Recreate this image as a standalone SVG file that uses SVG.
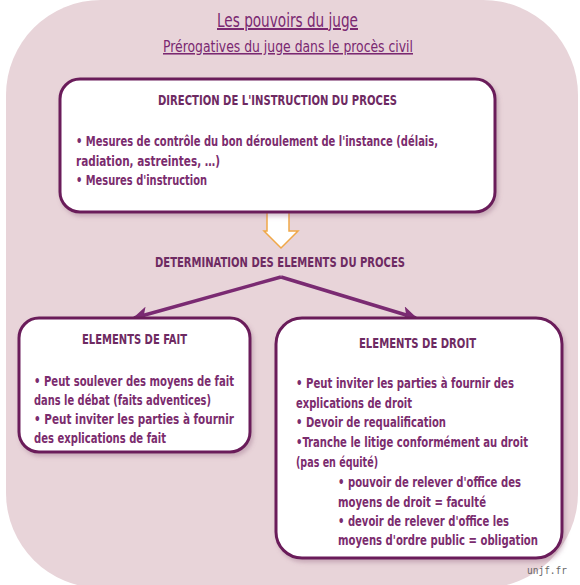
<svg xmlns="http://www.w3.org/2000/svg" width="580" height="585" viewBox="0 0 580 585">
<defs>
<filter id="sh" x="-10%" y="-10%" width="125%" height="130%">
<feDropShadow dx="2" dy="3" stdDeviation="2" flood-color="#8a5a78" flood-opacity="0.35"/>
</filter>
<marker id="ah" viewBox="0 0 10 10" refX="9" refY="5" markerWidth="4.5" markerHeight="4.5" orient="auto" markerUnits="strokeWidth">
<path d="M0,0 L10,5 L0,10 L2.5,5 Z" fill="#7A2A72"/>
</marker>
<style>
.t{font-family:"DejaVu Sans Condensed","DejaVu Sans",sans-serif;font-stretch:condensed;font-weight:bold;font-size:13.5px;fill:#7B2C6E}
.h{font-family:"DejaVu Sans Condensed","DejaVu Sans",sans-serif;font-stretch:condensed;font-weight:bold;font-size:13.5px;fill:#6E2A62}
.ttl{font-family:"DejaVu Sans Condensed","DejaVu Sans",sans-serif;font-stretch:condensed;fill:#7A2871;text-decoration:underline}
.box{fill:#ffffff;stroke:#6A1B5A;stroke-width:3;filter:url(#sh)}
.con{fill:none;stroke:#7A2A72;stroke-width:3.5;marker-end:url(#ah)}
</style>
</defs>
<g id="background">
<rect x="6" y="0" width="572" height="588" rx="95" ry="95" fill="#E8D4D9"/>
</g>
<g id="title">
<text class="ttl" x="287.5" y="27" font-size="20" text-anchor="middle" textLength="141" lengthAdjust="spacingAndGlyphs">Les pouvoirs du juge</text>
<text class="ttl" x="288" y="52" font-size="15.5" text-anchor="middle" textLength="250" lengthAdjust="spacingAndGlyphs">Prérogatives du juge dans le procès civil</text>
</g>
<g id="connectors">
<polygon points="267,212 289,212 289,231 298,231 281,248 264,231 267,231" fill="#ffffff" stroke="#F0A848" stroke-width="1.5" stroke-linejoin="miter"/>
<path class="con" d="M281,277 L134,318"/>
<path class="con" d="M281,277 L416,318"/>
</g>
<g id="node-direction">
<rect class="box" x="60" y="79" width="435" height="133" rx="20" ry="20"/>
<text class="h" x="277.5" y="105" text-anchor="middle" textLength="239" lengthAdjust="spacingAndGlyphs">DIRECTION DE L'INSTRUCTION DU PROCES</text>
<text class="t" x="76" y="146" textLength="362" lengthAdjust="spacingAndGlyphs">• Mesures de contrôle du bon déroulement de l'instance (délais,</text>
<text class="t" x="76" y="166" textLength="144" lengthAdjust="spacingAndGlyphs">radiation, astreintes, …)</text>
<text class="t" x="76" y="185" textLength="131" lengthAdjust="spacingAndGlyphs">• Mesures d'instruction</text>
</g>
<g id="node-determination">
<text class="h" x="280" y="267" text-anchor="middle" textLength="250" lengthAdjust="spacingAndGlyphs">DETERMINATION DES ELEMENTS DU PROCES</text>
</g>
<g id="node-fait">
<rect class="box" x="19" y="318" width="231" height="134" rx="20" ry="20"/>
<text class="h" x="134.5" y="344" text-anchor="middle" textLength="105" lengthAdjust="spacingAndGlyphs">ELEMENTS DE FAIT</text>
<text class="t" x="34" y="386" textLength="200" lengthAdjust="spacingAndGlyphs">• Peut soulever des moyens de fait</text>
<text class="t" x="34" y="405" textLength="177" lengthAdjust="spacingAndGlyphs">dans le débat (faits adventices)</text>
<text class="t" x="34" y="424" textLength="200" lengthAdjust="spacingAndGlyphs">• Peut inviter les parties à fournir</text>
<text class="t" x="34" y="443" textLength="132" lengthAdjust="spacingAndGlyphs">des explications de fait</text>
</g>
<g id="node-droit">
<rect class="box" x="276" y="318" width="286" height="240" rx="26" ry="26"/>
<text class="h" x="417.5" y="348" text-anchor="middle" textLength="117" lengthAdjust="spacingAndGlyphs">ELEMENTS DE DROIT</text>
<text class="t" x="296" y="388" textLength="218" lengthAdjust="spacingAndGlyphs">• Peut inviter les parties à fournir des</text>
<text class="t" x="296" y="408" textLength="116" lengthAdjust="spacingAndGlyphs">explications de droit</text>
<text class="t" x="296" y="427" textLength="150" lengthAdjust="spacingAndGlyphs">• Devoir de requalification</text>
<text class="t" x="296" y="447" textLength="232" lengthAdjust="spacingAndGlyphs">•Tranche le litige conformément au droit</text>
<text class="t" x="296" y="467" textLength="82" lengthAdjust="spacingAndGlyphs">(pas en équité)</text>
<text class="t" x="338" y="487" textLength="183" lengthAdjust="spacingAndGlyphs">• pouvoir de relever d'office des</text>
<text class="t" x="338" y="507" textLength="148" lengthAdjust="spacingAndGlyphs">moyens de droit = faculté</text>
<text class="t" x="338" y="526" textLength="171" lengthAdjust="spacingAndGlyphs">• devoir de relever d'office les</text>
<text class="t" x="338" y="545" textLength="200" lengthAdjust="spacingAndGlyphs">moyens d'ordre public = obligation</text>
</g>
<g id="watermark">
<text x="527" y="574" font-family="'DejaVu Sans Mono','Liberation Mono',monospace" font-size="10" fill="#666666" textLength="40" lengthAdjust="spacingAndGlyphs">unjf.fr</text>
</g>
</svg>
